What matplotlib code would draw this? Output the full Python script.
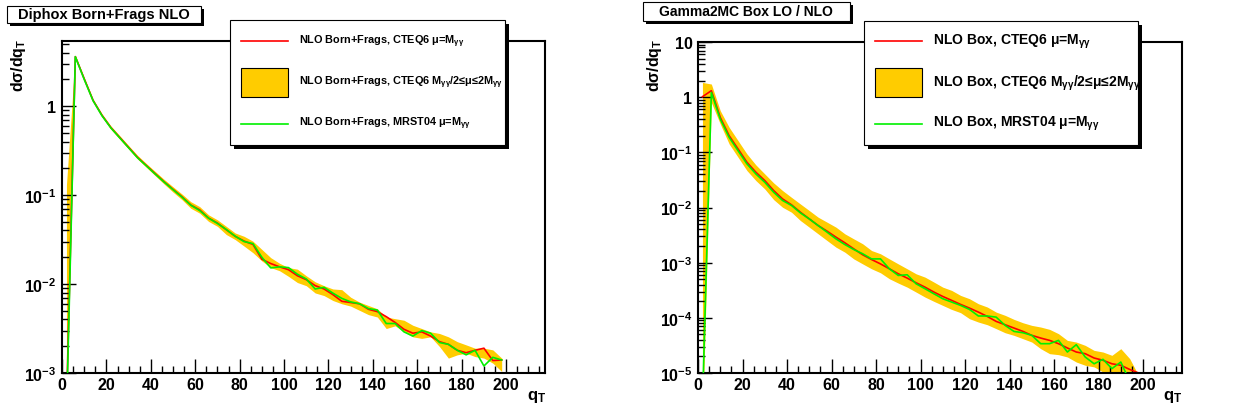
import numpy as np
import matplotlib
matplotlib.use("Agg")
import matplotlib.pyplot as plt
from matplotlib.patches import Rectangle
from matplotlib.lines import Line2D
from matplotlib.ticker import MultipleLocator, LogLocator, FixedLocator, FuncFormatter, NullFormatter

plt.rcParams['font.family'] = ['Liberation Sans', 'DejaVu Sans']
plt.rcParams['font.weight'] = 'bold'
plt.rcParams['mathtext.fontset'] = 'custom'
plt.rcParams['mathtext.rm'] = 'Liberation Sans:bold'
plt.rcParams['mathtext.it'] = 'Liberation Sans:bold'
plt.rcParams['mathtext.bf'] = 'Liberation Sans:bold'
plt.rcParams['mathtext.sf'] = 'Liberation Sans:bold'

# bin centres (4 GeV bins)
qt = list(range(2, 200, 4))

# ---- Diphox Born+Frags NLO ----
diphox_cteq6 = [0.0004, 3.6, 2.03, 1.16, 0.79, 0.574, 0.445, 0.344, 0.266, 0.215,
                0.174, 0.141, 0.116, 0.096, 0.0774, 0.0682, 0.0552, 0.0484, 0.0408, 0.0344,
                0.0304, 0.0279, 0.0190, 0.0170, 0.0156, 0.0145, 0.0124, 0.0112, 0.0096, 0.0088,
                0.0076, 0.0064, 0.0062, 0.0060, 0.0052, 0.0049, 0.0043, 0.0037, 0.0031, 0.0028,
                0.0029, 0.0026, 0.00225, 0.0021, 0.0018, 0.00169, 0.0018, 0.0019, 0.00138, 0.0014]
diphox_mrst = [0.0003, 3.6, 2.0, 1.15, 0.78, 0.57, 0.44, 0.34, 0.263, 0.213,
               0.172, 0.140, 0.115, 0.095, 0.077, 0.067, 0.055, 0.048, 0.041, 0.0345,
               0.030, 0.0285, 0.020, 0.0152, 0.0156, 0.0153, 0.0129, 0.0114, 0.0088, 0.0092,
               0.0079, 0.0069, 0.0063, 0.0060, 0.0053, 0.0051, 0.0036, 0.0036, 0.0029, 0.0026,
               0.0030, 0.0028, 0.0022, 0.0021, 0.0018, 0.0016, 0.0018, 0.0012, 0.0015, 0.0014]
diphox_hi = [0.13, 3.75, 2.1, 1.2, 0.82, 0.60, 0.465, 0.36, 0.28, 0.226,
             0.184, 0.150, 0.124, 0.103, 0.0843, 0.0742, 0.0600, 0.0527, 0.0445, 0.0375,
             0.0344, 0.0303, 0.0245, 0.0198, 0.0171, 0.0153, 0.0147, 0.0124, 0.0106, 0.00958,
             0.00880, 0.00865, 0.00711, 0.00626, 0.00574, 0.00527, 0.00426, 0.00408, 0.00392, 0.00344,
             0.00316, 0.00290, 0.00278, 0.00255, 0.00225, 0.00207, 0.00190, 0.00190, 0.00182, 0.00147]
diphox_lo = [0.0005, 3.45, 1.95, 1.12, 0.76, 0.55, 0.425, 0.33, 0.255, 0.205,
             0.165, 0.133, 0.108, 0.089, 0.0711, 0.0626, 0.0506, 0.0445, 0.0360, 0.0316,
             0.0267, 0.0225, 0.0182, 0.0153, 0.0141, 0.0122, 0.0104, 0.00958, 0.00794, 0.00742,
             0.00653, 0.00600, 0.00565, 0.00506, 0.00453, 0.00426, 0.00316, 0.00339, 0.00290, 0.00255,
             0.00245, 0.00255, 0.00198, 0.00147, 0.00160, 0.00167, 0.00153, 0.00147, 0.00129, 0.00104]

# ---- Gamma2MC Box NLO ----
box_cteq6 = [1.02, 1.31, 0.43, 0.20, 0.115, 0.066, 0.0436, 0.0308, 0.0203, 0.0143,
             0.0112, 0.00822, 0.00622, 0.00471, 0.00372, 0.0029, 0.00229, 0.00178, 0.00139, 0.00114,
             0.00095, 0.000774, 0.000628, 0.000525, 0.000432, 0.00036, 0.000293, 0.000244, 0.000207, 0.000175,
             0.00015, 0.000127, 0.000106, 8.61e-5, 7.5e-5, 6.53e-5, 5.68e-5, 4.81e-5, 4.3e-5, 3.9e-5,
             3.4e-5, 2.84e-5, 2.4e-5, 2.24e-5, 1.87e-5, 1.7e-5, 1.47e-5, 1.38e-5, 1.16e-5, 1.0e-5]
box_mrst = [2.7e-6, 1.22, 0.40, 0.187, 0.107, 0.0617, 0.0406, 0.0287, 0.0189, 0.0134,
            0.0109, 0.0080, 0.0062, 0.0047, 0.00357, 0.0027, 0.00213, 0.00173, 0.00145, 0.00117,
            0.00117, 0.000774, 0.000586, 0.000603, 0.000414, 0.000337, 0.000273, 0.000222, 0.000193, 0.000168,
            0.000142, 0.000108, 0.000108, 0.000103, 7.3e-5, 5.67e-5, 5.37e-5, 4.81e-5, 3.4e-5, 3.4e-5,
            3.9e-5, 2.4e-5, 3.26e-5, 1.95e-5, 1.47e-5, 1.77e-5, 1.2e-5, 1.58e-5, 7e-6, 5e-6]
box_hi = [1.85, 1.73, 0.570, 0.284, 0.163, 0.0935, 0.0592, 0.0406, 0.0279, 0.0203,
          0.0153, 0.0116, 0.00881, 0.00667, 0.00542, 0.00440, 0.00333, 0.00270, 0.00220, 0.00166,
          0.00145, 0.00117, 0.00095, 0.000774, 0.000628, 0.000547, 0.000445, 0.000360, 0.000314, 0.000255,
          0.000222, 0.000180, 0.000157, 0.000127, 0.000111, 9.38e-5, 8.15e-5, 7.3e-5, 6.81e-5, 6.18e-5,
          5.16e-5, 3.9e-5, 3.64e-5, 3.17e-5, 2.57e-5, 2.4e-5, 2.09e-5, 2.76e-5, 1.82e-5, 0.9e-5]
box_lo = [1e-6, 0.8, 0.327, 0.142, 0.0815, 0.0467, 0.0308, 0.0217, 0.0139, 0.0101,
          0.00822, 0.00581, 0.0044, 0.00333, 0.00252, 0.00191, 0.00155, 0.00117, 0.00095, 0.000774,
          0.000656, 0.000511, 0.000426, 0.00036, 0.000293, 0.000238, 0.000199, 0.000168, 0.000142, 0.000124,
          9.64e-5, 8.38e-5, 7.5e-5, 6.36e-5, 5.37e-5, 4.81e-5, 4.19e-5, 3.64e-5, 2.76e-5, 2.24e-5,
          2.15e-5, 1.95e-5, 1.58e-5, 1.38e-5, 1.29e-5, 1.04e-5, 8e-6, 7e-6, 6e-6, 5e-6]

# y tick decades shown on each panel
diphox_yticks = [1e-3, 1e-2, 1e-1, 1]
box_yticks = [1e-5, 1e-4, 1e-3, 1e-2, 1e-1, 1, 10]

W, H = 1240, 414
RED = '#ff0000'
GREEN = '#00f000'
BAND = '#ffcc00'


def fx(x):
    return x / W


def fy(y):
    return 1 - y / H


def log_label(v, pos):
    if abs(v - 1) < 1e-9:
        return '1'
    if abs(v - 10) < 1e-9:
        return '10'
    e = int(round(np.log10(v)))
    return r'$10^{%d}$' % e


def box_with_shadow(fig, x0, y0, x1, y1, off):
    fig.add_artist(Rectangle((fx(x0 + off), fy(y1 + off)), fx(x1 - x0), (y1 - y0) / H,
                             transform=fig.transFigure, facecolor='black', edgecolor='none', zorder=5))
    fig.add_artist(Rectangle((fx(x0), fy(y1)), fx(x1 - x0), (y1 - y0) / H,
                             transform=fig.transFigure, facecolor='white', edgecolor='black',
                             linewidth=0.8, zorder=6))


def legend_box(fig, x0, y0, x1, y1, labels, fs):
    box_with_shadow(fig, x0, y0, x1, y1, 4)
    lx0, lx1 = x0 + 11, x0 + 58
    tx = x0 + 69
    fig.add_artist(Line2D([fx(lx0), fx(lx1)], [fy(42), fy(42)], transform=fig.transFigure,
                          color=RED, lw=1.2, zorder=7))
    fig.add_artist(Rectangle((fx(lx0), fy(98)), fx(lx1 - lx0), 29 / H, transform=fig.transFigure,
                             facecolor=BAND, edgecolor='black', lw=0.8, zorder=7))
    fig.add_artist(Line2D([fx(lx0), fx(lx1)], [fy(125), fy(125)], transform=fig.transFigure,
                          color=GREEN, lw=1.2, zorder=7))
    for lab, yy in zip(labels, [42, 83, 124]):
        fig.text(fx(tx), fy(yy), lab, fontsize=fs, fontweight='bold', ha='left', va='center', zorder=8)


fig = plt.figure(figsize=(12.4, 4.14), dpi=100)

ax1 = fig.add_axes([fx(62), fy(374), fx(545 - 62), (374 - 42) / H])
ax2 = fig.add_axes([fx(698), fy(374), fx(1182 - 698), (374 - 43) / H])

panels = [
    (ax1, diphox_cteq6, diphox_mrst, diphox_lo, diphox_hi, (1e-3, 5.4), diphox_yticks),
    (ax2, box_cteq6, box_mrst, box_lo, box_hi, (1e-5, 10), box_yticks),
]
for ax, red, green, lo, hi, ylim, yt in panels:
    ax.fill_between(qt, lo, hi, color=BAND, lw=0, zorder=1)
    ax.plot(qt, red, color=RED, lw=1.2, zorder=2)
    ax.plot(qt, green, color=GREEN, lw=1.2, zorder=3)
    ax.set_yscale('log')
    ax.set_xlim(0, 217.5)
    ax.set_ylim(*ylim)
    ax.xaxis.set_major_locator(MultipleLocator(20))
    ax.xaxis.set_minor_locator(MultipleLocator(5))
    ax.yaxis.set_major_locator(FixedLocator(yt))
    ax.yaxis.set_minor_locator(LogLocator(base=10, subs=np.arange(2, 10)))
    ax.yaxis.set_major_formatter(FuncFormatter(log_label))
    ax.yaxis.set_minor_formatter(NullFormatter())
    ax.tick_params(which='major', direction='in', length=10, width=1, labelsize=11.5,
                   top=False, right=False)
    ax.tick_params(which='minor', direction='in', length=5, width=1, top=False, right=False)
    ax.tick_params(axis='x', pad=3)
    ax.tick_params(axis='y', pad=4)
    for lab in ax.get_xticklabels() + ax.get_yticklabels():
        lab.set_fontweight('bold')
    for sp in ax.spines.values():
        sp.set_linewidth(1.5)

# axis titles
fig.text(fx(18), fy(39), r'd$\sigma$/dq$_{T}$', rotation=90, fontsize=11.5, fontweight='bold',
         ha='center', va='top')
fig.text(fx(655), fy(39), r'd$\sigma$/dq$_{T}$', rotation=90, fontsize=11.5, fontweight='bold',
         ha='center', va='top')
fig.text(fx(546), fy(397), r'q$_{T}$', fontsize=12, fontweight='bold', ha='right', va='center')
fig.text(fx(1182), fy(397), r'q$_{T}$', fontsize=12, fontweight='bold', ha='right', va='center')

# titles
box_with_shadow(fig, 7, 7, 201, 24, 3)
fig.text(fx(104), fy(15.5), 'Diphox Born+Frags NLO', fontsize=10.5, fontweight='bold',
         ha='center', va='center', zorder=8)
box_with_shadow(fig, 643, 3, 850, 22, 3)
fig.text(fx(746), fy(12.5), 'Gamma2MC Box LO / NLO', fontsize=10, fontweight='bold',
         ha='center', va='center', zorder=8)

# legends
legend_box(fig, 230, 21, 505, 146, [
    r'NLO Born+Frags, CTEQ6 μ=M$_{\gamma\gamma}$',
    r'NLO Born+Frags, CTEQ6 M$_{\gamma\gamma}$/2≤μ≤2M$_{\gamma\gamma}$',
    r'NLO Born+Frags, MRST04 μ=M$_{\gamma\gamma}$',
], 7.8)
legend_box(fig, 864, 22, 1138, 146, [
    r'NLO Box, CTEQ6 μ=M$_{\gamma\gamma}$',
    r'NLO Box, CTEQ6 M$_{\gamma\gamma}$/2≤μ≤2M$_{\gamma\gamma}$',
    r'NLO Box, MRST04 μ=M$_{\gamma\gamma}$',
], 10)

fig.savefig('out.png', dpi=100)
